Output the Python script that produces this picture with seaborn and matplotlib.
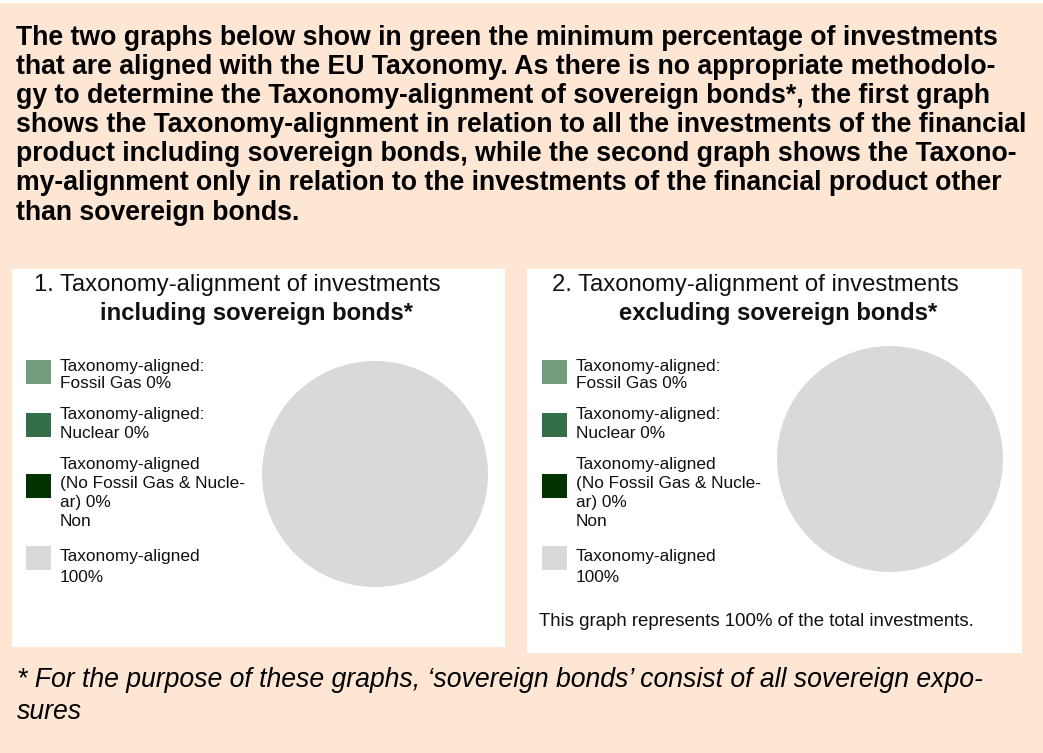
import matplotlib
matplotlib.use("Agg")
import matplotlib.pyplot as plt
from matplotlib.patches import Rectangle
import seaborn as sns

# ---- data -------------------------------------------------------------
categories = [
    "Taxonomy-aligned:\nFossil Gas 0%",
    "Taxonomy-aligned:\nNuclear 0%",
    "Taxonomy-aligned\n(No Fossil Gas & Nucle-\nar) 0%\nNon",
    "Taxonomy-aligned\n100%",
]
incl_sovereign = [0, 0, 0, 100]
excl_sovereign = [0, 0, 0, 100]
slice_colors = ["#739c7e", "#336e48", "#013300", "#d9d9d9"]

intro_lines = [
    "The two graphs below show in green the minimum percentage of investments",
    "that are aligned with the EU Taxonomy. As there is no appropriate methodolo-",
    "gy to determine the Taxonomy-alignment of sovereign bonds*, the first graph",
    "shows the Taxonomy-alignment in relation to all the investments of the financial",
    "product including sovereign bonds, while the second graph shows the Taxono-",
    "my-alignment only in relation to the investments of the financial product other",
    "than sovereign bonds.",
]
panel_titles = [
    ("1. Taxonomy-alignment of investments", "including sovereign bonds*"),
    ("2. Taxonomy-alignment of investments", "excluding sovereign bonds*"),
]
panel_note = "This graph represents 100% of the total investments."
footnote_lines = [
    "* For the purpose of these graphs, \u2018sovereign bonds\u2019 consist of all sovereign expo-",
    "sures",
]

# ---- styling ----------------------------------------------------------
sns.set_theme(style="white")
plt.rcParams["font.family"] = ["Liberation Sans", "DejaVu Sans"]
palette = sns.color_palette(slice_colors)

W, H = 1043, 753
PEACH = "#fee6d5"
fig = plt.figure(figsize=(W / 100, H / 100), dpi=100)
fig.patch.set_facecolor("white")


def fx(x):
    return x / W


def fy(y):
    return 1 - y / H


def text(x, y, s, **kw):
    fig.text(fx(x), fy(y), s, va="center", **kw)


# page background
fig.patches.append(Rectangle((0, 0), 1, fy(3), transform=fig.transFigure,
                             facecolor=PEACH, edgecolor="none", zorder=0))

# introductory paragraph
for i, line in enumerate(intro_lines):
    text(16, 38 + 29.1 * i, line, fontsize=19.2, fontweight="bold", color="black")

# panels: (box left, top, right, bottom), pie centre, swatch x, label x
panels = [
    dict(box=(12, 269, 505, 647), centre=(375, 474), sw_x=26, lab_x=60, title_x=(237, 256)),
    dict(box=(527, 269, 1022, 653), centre=(890, 459), sw_x=542, lab_x=576, title_x=(755, 778)),
]
R = 113
swatch_tops = [360, 413, 474, 546]
label_tops = [366, 415, 465, 556]
label_steps = [17.5, 18, 18.8, 22]

for p, values, titles in zip(panels, [incl_sovereign, excl_sovereign], panel_titles):
    x0, y0, x1, y1 = p["box"]
    fig.patches.append(Rectangle((fx(x0), fy(y1)), fx(x1 - x0), (y1 - y0) / H,
                                 transform=fig.transFigure, facecolor="white",
                                 edgecolor="none", zorder=1))
    text(p["title_x"][0], 285, titles[0], fontsize=17.2, ha="center", color="#111111", zorder=3)
    text(p["title_x"][1], 313, titles[1], fontsize=17.2, ha="center", fontweight="bold",
         color="#111111", zorder=3)

    # legend swatches and labels
    for k, label in enumerate(categories):
        fig.patches.append(Rectangle((fx(p["sw_x"]), fy(swatch_tops[k] + 24)), 25 / W, 24 / H,
                                     transform=fig.transFigure, facecolor=palette[k],
                                     edgecolor="none", zorder=2))
        for j, ln in enumerate(label.split("\n")):
            text(p["lab_x"], label_tops[k] + label_steps[k] * j, ln, fontsize=12.4,
                 color="#111111", zorder=3)

    # pie
    cx, cy = p["centre"]
    ax = fig.add_axes([fx(cx - R), fy(cy + R), 2 * R / W, 2 * R / H], zorder=2)
    ax.pie(values, colors=palette, startangle=90, counterclock=False,
           wedgeprops=dict(linewidth=0))
    ax.set_xlim(-1, 1)
    ax.set_ylim(-1, 1)
    ax.set_aspect("equal")
    ax.axis("off")

text(539, 622, panel_note, fontsize=13.4, color="#111111", zorder=3)

# footnote
for i, line in enumerate(footnote_lines):
    text(17, 680 + 32 * i, line, fontsize=19.2, fontstyle="italic", color="black")

fig.savefig("out.png", dpi=100, facecolor=fig.get_facecolor())
